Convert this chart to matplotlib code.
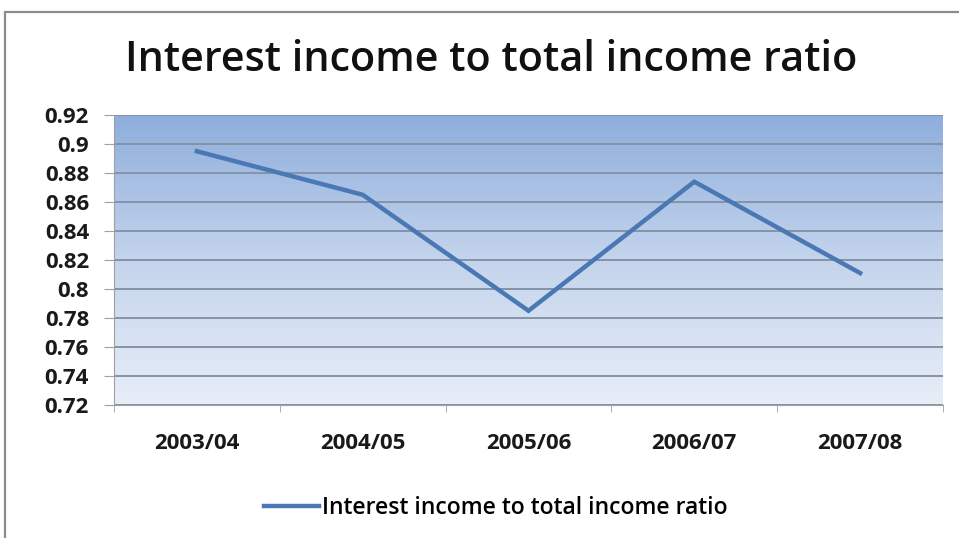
import numpy as np
import matplotlib
matplotlib.use("Agg")
import matplotlib.pyplot as plt
from matplotlib.colors import LinearSegmentedColormap
from matplotlib.lines import Line2D
from matplotlib.patches import Rectangle

plt.rcParams["font.family"] = ["Open Sans", "DejaVu Sans"]

years = ["2003/04", "2004/05", "2005/06", "2006/07", "2007/08"]
ratio = [0.895, 0.865, 0.785, 0.874, 0.811]
yticks = [0.72, 0.74, 0.76, 0.78, 0.8, 0.82, 0.84, 0.86, 0.88, 0.9, 0.92]
ytick_labels = ["0.72", "0.74", "0.76", "0.78", "0.8", "0.82", "0.84",
                "0.86", "0.88", "0.9", "0.92"]

LINE = "#4a78b4"
GRID = "#8593a8"
TEXT = "#1a1a1a"

fig = plt.figure(figsize=(9.59, 5.38), dpi=100)
fig.patch.set_facecolor("white")

# outer chart frame (runs off the right and bottom edges)
fig.add_artist(Rectangle((5 / 959, -0.05), 1.2, 1 - 12 / 538 + 0.05,
                         transform=fig.transFigure, fill=False,
                         edgecolor="#8c8c8c", lw=1.6))

ax = fig.add_axes([114 / 959, 133 / 538, 829 / 959, 290 / 538])
x = np.arange(len(years))
ax.set_xlim(-0.5, len(years) - 0.5)
ax.set_ylim(0.72, 0.92)

# vertical blue gradient behind the plot
cmap = LinearSegmentedColormap.from_list("bg", ["#e8eef8", "#c4d4ec", "#8eaedd"])
grad = np.linspace(0, 1, 256).reshape(-1, 1)
ax.imshow(grad, extent=[0, 1, 0, 1], transform=ax.transAxes, origin="lower",
          cmap=cmap, aspect="auto", zorder=0)

for v in yticks:
    ax.axhline(v, color=GRID, lw=1.4, zorder=1)

ax.plot(x, ratio, color=LINE, lw=3.2, solid_joinstyle="miter", zorder=3)

ax.set_yticks(yticks)
ax.set_yticklabels(ytick_labels)
ax.set_xticks(x)
ax.set_xticklabels(years)
ax.set_xticks(np.arange(-0.5, len(years)), minor=True)
ax.tick_params(axis="x", which="major", length=0, pad=20,
               labelsize=16, labelcolor=TEXT)
ax.tick_params(axis="x", which="minor", length=5, color="#a0a0a0", direction="out")
ax.tick_params(axis="y", length=7, color="#a0a0a0", labelsize=16,
               labelcolor=TEXT, pad=11)
for lab in ax.get_xticklabels() + ax.get_yticklabels():
    lab.set_fontweight("bold")

for side in ["top", "right"]:
    ax.spines[side].set_visible(False)
ax.spines["left"].set_color("#a0a0a0")
ax.spines["bottom"].set_color("#a0a0a0")

fig.text(491 / 959, 1 - 60 / 538, "Interest income to total income ratio",
         ha="center", va="center", fontsize=29.8, fontweight="semibold",
         color="#111111")

handle = Line2D([], [], color=LINE, lw=3.2)
fig.legend([handle], ["Interest income to total income ratio"],
           loc="center", bbox_to_anchor=(496 / 959, 1 - 508 / 538),
           frameon=False, handlelength=2.4, handletextpad=0.15,
           prop={"weight": "semibold", "size": 16.5})

fig.savefig("out.png", dpi=100, facecolor=fig.get_facecolor())
